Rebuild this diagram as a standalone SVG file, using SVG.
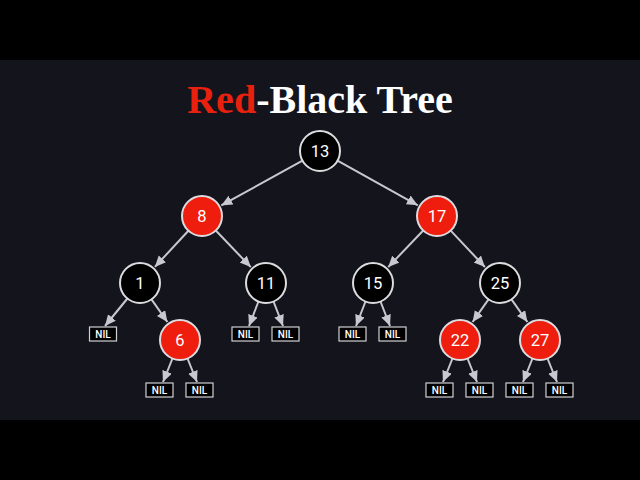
<svg xmlns="http://www.w3.org/2000/svg" width="640" height="480" viewBox="0 0 640 480">
<style>
.bg{fill:#14141d}
.bar{fill:#000}
.title{font-family:"Liberation Serif","Times New Roman",serif;font-weight:bold;font-size:40px}
.nb circle{fill:#000;stroke:#dcdce0;stroke-width:2}
.nr circle{fill:#ee1d0d;stroke:#dcdce0;stroke-width:2}
.lbl{font-family:Roboto,"Liberation Sans",sans-serif;font-size:16.5px;fill:#fff;text-anchor:middle}
.nil rect{fill:#000;stroke:#d0d0d4;stroke-width:1.2}
.nil text{font-family:Roboto,"Liberation Sans",sans-serif;font-size:10px;font-weight:500;fill:#fff;text-anchor:middle}
.edges line{stroke:#c8c8d0;stroke-width:2;marker-end:url(#ah)}
</style>
<defs>
<marker id="ah" markerUnits="userSpaceOnUse" markerWidth="12" markerHeight="11" refX="11" refY="5" orient="auto">
<path d="M0,0 L11,5 L0,10 z" fill="#c8c8d0"/>
</marker>
</defs>
<rect class="bar" x="0" y="0" width="640" height="480"/>
<rect class="bg" x="0" y="60" width="640" height="360"/>
<text class="title" x="320" y="113" text-anchor="middle"><tspan fill="#e8200e">Red</tspan><tspan fill="#ffffff">-Black Tree</tspan></text>
<g class="edges" id="edges">
<line x1="302.5" y1="160.7" x2="221.3" y2="205.4"/>
<line x1="337.5" y1="160.7" x2="417.8" y2="205.3"/>
<line x1="188.4" y1="230.7" x2="154.9" y2="266.9"/>
<line x1="215.8" y1="230.5" x2="250.8" y2="267.1"/>
<line x1="423.2" y1="230.5" x2="388.2" y2="267.1"/>
<line x1="450.7" y1="230.6" x2="484.9" y2="267.0"/>
<line x1="151.5" y1="299.4" x2="167.4" y2="322.0"/>
<line x1="127.4" y1="298.5" x2="105" y2="326"/>
<line x1="488.5" y1="299.4" x2="472.6" y2="322.0"/>
<line x1="511.5" y1="299.4" x2="527.4" y2="322.0"/>
<line x1="258.5" y1="301.5" x2="249" y2="326"/>
<line x1="273.5" y1="301.5" x2="283" y2="326"/>
<line x1="365.5" y1="301.5" x2="356" y2="326"/>
<line x1="380.5" y1="301.5" x2="390" y2="326"/>
<line x1="172.5" y1="358.5" x2="163" y2="382"/>
<line x1="187.5" y1="358.5" x2="197" y2="382"/>
<line x1="452.5" y1="358.5" x2="443" y2="382"/>
<line x1="467.5" y1="358.5" x2="477" y2="382"/>
<line x1="532.5" y1="358.5" x2="523" y2="382"/>
<line x1="547.5" y1="358.5" x2="557" y2="382"/>
</g>
<g id="n13" class="nb"><circle cx="320" cy="151" r="20"/><text class="lbl" x="320" y="156.8">13</text></g>
<g id="n8" class="nr"><circle cx="202" cy="216" r="20"/><text class="lbl" x="202" y="221.8">8</text></g>
<g id="n17" class="nr"><circle cx="437" cy="216" r="20"/><text class="lbl" x="437" y="221.8">17</text></g>
<g id="n1" class="nb"><circle cx="140" cy="283" r="20"/><text class="lbl" x="140" y="288.8">1</text></g>
<g id="n11" class="nb"><circle cx="266" cy="283" r="20"/><text class="lbl" x="266" y="288.8">11</text></g>
<g id="n15" class="nb"><circle cx="373" cy="283" r="20"/><text class="lbl" x="373" y="288.8">15</text></g>
<g id="n25" class="nb"><circle cx="500" cy="283" r="20"/><text class="lbl" x="500" y="288.8">25</text></g>
<g id="n6" class="nr"><circle cx="180" cy="340" r="20"/><text class="lbl" x="180" y="345.8">6</text></g>
<g id="n22" class="nr"><circle cx="460" cy="340" r="20"/><text class="lbl" x="460" y="345.8">22</text></g>
<g id="n27" class="nr"><circle cx="540" cy="340" r="20"/><text class="lbl" x="540" y="345.8">27</text></g>
<g id="nil1" class="nil"><rect x="89.5" y="327" width="27" height="14"/><text x="103" y="337.6">NIL</text></g>
<g id="nil11a" class="nil"><rect x="232" y="327" width="27" height="14"/><text x="245.5" y="337.6">NIL</text></g>
<g id="nil11b" class="nil"><rect x="272" y="327" width="27" height="14"/><text x="285.5" y="337.6">NIL</text></g>
<g id="nil15a" class="nil"><rect x="339" y="327" width="27" height="14"/><text x="352.5" y="337.6">NIL</text></g>
<g id="nil15b" class="nil"><rect x="379" y="327" width="27" height="14"/><text x="392.5" y="337.6">NIL</text></g>
<g id="nil6a" class="nil"><rect x="146" y="383" width="27" height="14"/><text x="159.5" y="393.6">NIL</text></g>
<g id="nil6b" class="nil"><rect x="186" y="383" width="27" height="14"/><text x="199.5" y="393.6">NIL</text></g>
<g id="nil22a" class="nil"><rect x="426" y="383" width="27" height="14"/><text x="439.5" y="393.6">NIL</text></g>
<g id="nil22b" class="nil"><rect x="466" y="383" width="27" height="14"/><text x="479.5" y="393.6">NIL</text></g>
<g id="nil27a" class="nil"><rect x="506" y="383" width="27" height="14"/><text x="519.5" y="393.6">NIL</text></g>
<g id="nil27b" class="nil"><rect x="546" y="383" width="27" height="14"/><text x="559.5" y="393.6">NIL</text></g>
</svg>
